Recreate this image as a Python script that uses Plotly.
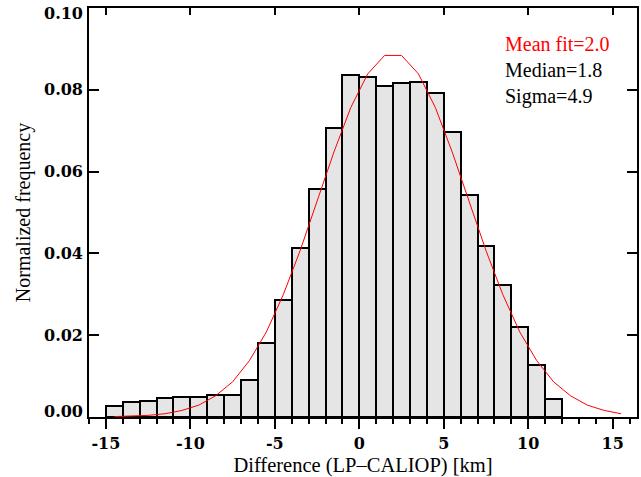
import plotly.graph_objects as go

# Histogram bins (left edges -15..11, width 1) and normalized frequencies
bin_centers = [-14.5, -13.5, -12.5, -11.5, -10.5, -9.5, -8.5, -7.5, -6.5, -5.5,
               -4.5, -3.5, -2.5, -1.5, -0.5, 0.5, 1.5, 2.5, 3.5, 4.5,
               5.5, 6.5, 7.5, 8.5, 9.5, 10.5, 11.5]
frequency = [0.0027, 0.0036, 0.0040, 0.0046, 0.0048, 0.0050, 0.0053, 0.0054, 0.0091, 0.0180,
             0.0287, 0.0413, 0.0558, 0.0707, 0.0836, 0.0831, 0.0809, 0.0816, 0.0820, 0.0793,
             0.0696, 0.0544, 0.0417, 0.0322, 0.0221, 0.0127, 0.0044]

# Fitted curve
fit_x = [-14.5, -13.5, -12.5, -11.5, -10.5, -9.5, -8.5, -7.5, -6.5, -5.5,
         -4.5, -3.5, -2.5, -1.5, -0.5, 0.5, 1.5, 2.5, 3.5, 4.5,
         5.5, 6.5, 7.5, 8.5, 9.5, 10.5, 11.5, 12.5, 13.5, 14.5, 15.5]
fit_y = [0.0001, 0.0002, 0.0004, 0.0008, 0.0016, 0.0029, 0.0052, 0.0086, 0.0138, 0.0208,
         0.0299, 0.0407, 0.0527, 0.0648, 0.0757, 0.0839, 0.0884, 0.0884, 0.0839, 0.0757,
         0.0648, 0.0527, 0.0407, 0.0299, 0.0208, 0.0138, 0.0086, 0.0052, 0.0029, 0.0016, 0.0008]

x_tickvals = [-15, -10, -5, 0, 5, 10, 15]
x_ticktext = ["-15", "-10", "-5", "0", "5", "10", "15"]
y_tickvals = [0.0, 0.02, 0.04, 0.06, 0.08, 0.10]
y_ticktext = ["0.00", "0.02", "0.04", "0.06", "0.08", "0.10"]
stats_text = ["Mean fit=2.0", "Median=1.8", "Sigma=4.9"]

XR = [-16, 16.44]
YR = [0, 0.1]

tickfont = dict(family="DejaVu Serif", size=16, color="black", weight="bold")
serif = "Liberation Serif"

fig = go.Figure()
fig.add_trace(go.Bar(x=bin_centers, y=frequency, width=1,
                     marker=dict(color="#e5e5e5", line=dict(color="black", width=2)),
                     showlegend=False, hoverinfo="skip"))
fig.add_trace(go.Scatter(x=fit_x, y=fit_y, mode="lines",
                         line=dict(color="red", width=1), showlegend=False))
# invisible trace to activate mirrored axes
fig.add_trace(go.Scatter(x=[XR[0]], y=[YR[0]], xaxis="x2", yaxis="y2", mode="markers",
                         marker=dict(opacity=0), showlegend=False, hoverinfo="skip"))

# y tick labels as annotations (end labels nudged inward like the original)
annotations = []
for i, (v, t) in enumerate(zip(y_tickvals, y_ticktext)):
    shift = 6 if i == 0 else (-5 if i == len(y_tickvals) - 1 else 0)
    annotations.append(dict(xref="paper", yref="y", x=0, y=v, xanchor="right", yanchor="middle",
                            xshift=-4, yshift=shift, text=t, showarrow=False, font=tickfont))

annotations.append(dict(xref="paper", yref="paper", x=0.7555, y=0.944, xanchor="left", yanchor="top",
                        align="left", showarrow=False,
                        text="<span style='color:red'>" + stats_text[0] + "</span><br>"
                             + stats_text[1] + "<br>" + stats_text[2],
                        font=dict(family=serif, size=20, color="black")))

fig.update_layout(
    width=641, height=477,
    margin=dict(l=89, r=4, t=8, b=58),
    paper_bgcolor="white", plot_bgcolor="white",
    bargap=0,
    xaxis=dict(range=XR, tickmode="array", tickvals=x_tickvals, ticktext=x_ticktext,
               ticks="outside", ticklen=10, tickwidth=2, tickcolor="black",
               showline=True, linecolor="black", linewidth=2, showgrid=False, zeroline=False,
               tickfont=tickfont, ticklabelstandoff=1,
               minor=dict(tickmode="array", tickvals=list(range(-16, 17)), ticks="outside",
                          ticklen=5, tickwidth=2, tickcolor="black", showgrid=False),
               title=dict(text="Difference (LP\u2013CALIOP) [km]",
                          font=dict(family=serif, size=20.5, color="black"), standoff=5)),
    yaxis=dict(range=YR, tickmode="array", tickvals=y_tickvals, showticklabels=False,
               ticks="inside", ticklen=10, tickwidth=2, tickcolor="black",
               showline=True, linecolor="black", linewidth=2, showgrid=False, zeroline=False,
               title=dict(text="Normalized frequency",
                          font=dict(family=serif, size=20, color="black"), standoff=51)),
    xaxis2=dict(range=XR, overlaying="x", side="top", tickmode="array", tickvals=x_tickvals,
                ticks="inside", ticklen=7, tickwidth=2, tickcolor="black", showticklabels=False,
                showline=True, linecolor="black", linewidth=2, showgrid=False, zeroline=False),
    yaxis2=dict(range=YR, overlaying="y", side="right", tickmode="array", tickvals=y_tickvals,
                ticks="inside", ticklen=10, tickwidth=2, tickcolor="black", showticklabels=False,
                showline=True, linecolor="black", linewidth=2, showgrid=False, zeroline=False),
    annotations=annotations,
)

fig.write_html("out.html")
